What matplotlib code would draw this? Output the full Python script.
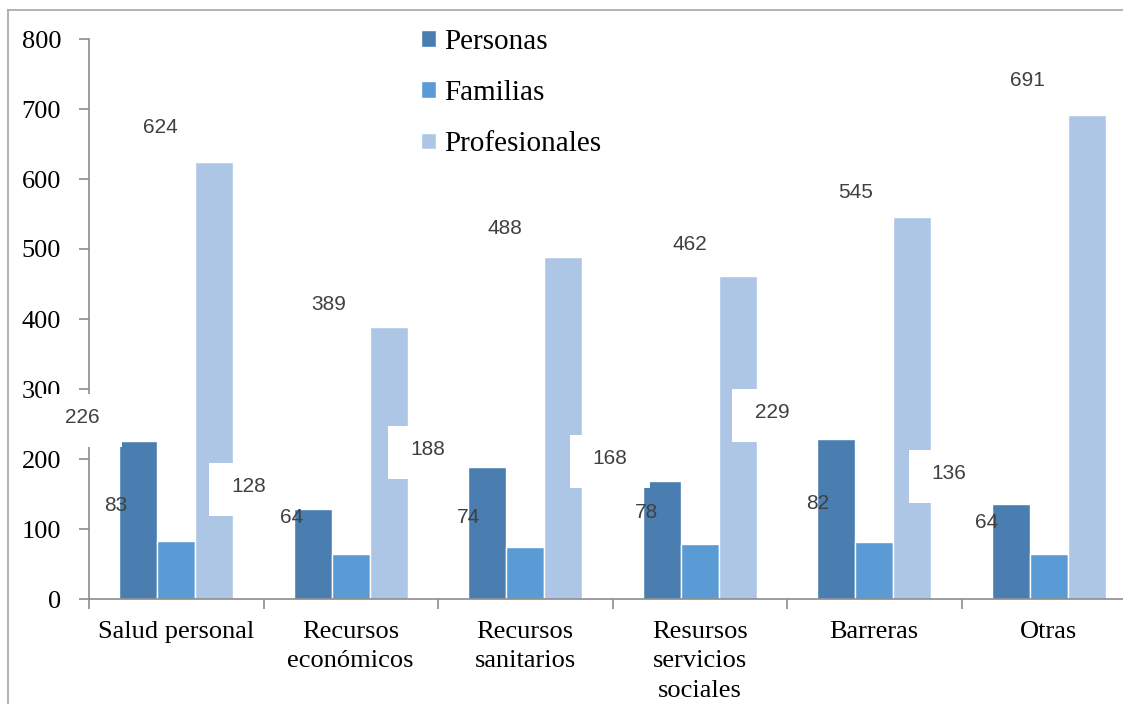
import matplotlib
matplotlib.use("Agg")
import matplotlib.pyplot as plt
import numpy as np
from matplotlib.patches import Rectangle
from matplotlib.lines import Line2D

# %% data
categories = ["Salud personal", "Recursos\neconómicos", "Recursos\nsanitarios",
              "Resursos\nservicios\nsociales", "Barreras", "Otras"]
personas = [226, 128, 188, 168, 229, 136]
familias = [83, 64, 74, 78, 82, 64]
profesionales = [624, 389, 488, 462, 545, 691]

# label placement (dragged around in the original chart)
pers_dx = [-0.54, -0.585, -0.56, -0.515, -0.585, -0.573]
pers_y = [259, 160, 213, 200, 266, 179]
fam_dx = [-0.344, -0.338, -0.327, -0.304, -0.327, -0.355]
fam_y = [134, 117, 116, 124, 137, 109]
prof_dx = [-0.092, -0.126, -0.115, -0.057, -0.109, -0.120]
prof_y = [673, 420, 529, 506, 580, 741]

c_pers, c_fam, c_prof = "#4a7eb1", "#5b9bd5", "#adc6e5"
grey = "#8c8c8c"
serif = ["Liberation Serif", "DejaVu Serif"]
sans = ["Liberation Sans", "DejaVu Sans"]

# %% figure
W, H = 1123, 704
fig = plt.figure(figsize=(W / 100, H / 100), dpi=100)
ax = fig.add_axes([89 / W, (H - 599) / H, 1047 / W, 560 / H])

x = np.arange(len(categories))
w = 0.218
kw = dict(width=w, edgecolor="white", linewidth=1, zorder=2)
ax.bar(x - w, personas, color=c_pers, label="Personas", **kw)
ax.bar(x, familias, color=c_fam, label="Familias", **kw)
ax.bar(x + w, profesionales, color=c_prof, label="Profesionales", **kw)

ax.set_xlim(-0.5, len(categories) - 0.5)
ax.set_ylim(0, 800)
ax.set_yticks(np.arange(0, 801, 100))
ax.set_xticks(np.arange(-0.5, len(categories), 1.0))
ax.set_xticklabels([])
ax.set_xticks(x, minor=True)
ax.set_xticklabels(categories, minor=True, fontsize=19, family=serif, linespacing=1.45)
ax.tick_params(axis="x", which="minor", length=0, pad=15.5)
ax.tick_params(axis="x", which="major", length=7, color=grey, width=1.2)
ax.tick_params(axis="y", length=7, color=grey, width=1.2, pad=13)
for lab in ax.get_yticklabels():
    lab.set_fontsize(19)
    lab.set_family(serif)

for s in ["top", "right"]:
    ax.spines[s].set_visible(False)
for s in ["left", "bottom"]:
    ax.spines[s].set_color(grey)
    ax.spines[s].set_linewidth(1.2)

tkw = dict(fontsize=15, family=sans, color="#404040", ha="center", va="center",
           zorder=5, clip_on=False)
box_w, box_h = 0.458, 76
for i in range(len(categories)):
    # personas labels sit on white boxes
    ax.add_patch(Rectangle((i + pers_dx[i] - box_w / 2, pers_y[i] - 3.5 - box_h / 2),
                           box_w, box_h, facecolor="white", edgecolor="none",
                           zorder=3, clip_on=False))
    ax.text(i + pers_dx[i], pers_y[i], str(personas[i]), **tkw)
    ax.text(i + fam_dx[i], fam_y[i], str(familias[i]), **tkw)
    ax.text(i + prof_dx[i], prof_y[i], str(profesionales[i]), **tkw)

ax.legend(loc="upper left", bbox_to_anchor=(421 / W, 1 - 29 / H),
          bbox_transform=fig.transFigure, frameon=False,
          prop=dict(family=serif, size=21), handlelength=0.5, handleheight=0.5,
          handletextpad=0.3, labelspacing=0.86, borderpad=0, borderaxespad=0)

# chart area frame
fig.add_artist(Line2D([8 / W, 1], [1 - 10 / H, 1 - 10 / H], color="#a6a6a6", lw=1.2))
fig.add_artist(Line2D([8 / W, 8 / W], [0, 1 - 10 / H], color="#a6a6a6", lw=1.2))

fig.savefig("out.png", dpi=100)
